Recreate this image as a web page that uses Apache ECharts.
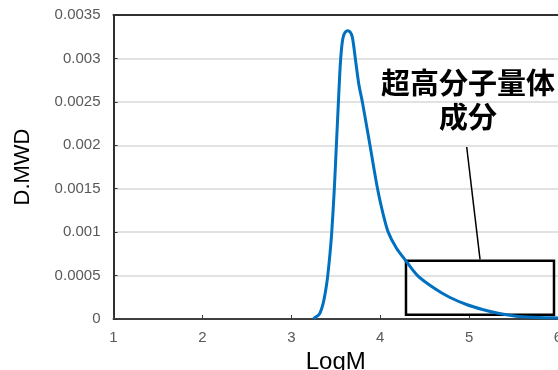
<!DOCTYPE html>
<html>
<head>
<meta charset="utf-8">
<script src="https://cdn.jsdelivr.net/npm/echarts@6/dist/echarts.min.js"></script>
<style>
  html, body { margin: 0; padding: 0; background: #fff; }
  #chart { width: 558px; height: 370px; }
</style>
</head>
<body>
<div id="chart"></div>
<script>
// Molecular weight distribution (LogM vs D.MWD)
const logM = [3.25, 3.27, 3.30, 3.324, 3.36, 3.39, 3.41, 3.435, 3.455, 3.484, 3.507, 3.530,
  3.545, 3.556, 3.57, 3.585, 3.605, 3.635, 3.665, 3.685, 3.70, 3.72, 3.76, 3.799, 3.885,
  3.97, 4.03, 4.09, 4.18, 4.29, 4.42, 4.6, 4.78, 4.97, 5.15, 5.34, 5.53, 5.72, 5.92, 6.0];
const dmwd = [0, 0.00002, 0.00004, 0.00007, 0.000186, 0.00035, 0.0005, 0.00075, 0.001, 0.0015,
  0.002, 0.0025, 0.00282, 0.003, 0.00316, 0.00325, 0.0033, 0.00332, 0.0033, 0.00325, 0.00316,
  0.003, 0.0027, 0.0025, 0.002, 0.0015, 0.00122, 0.001, 0.00082, 0.000668, 0.0005, 0.00036,
  0.00025, 0.000167, 0.00011, 0.000063, 0.000032, 0.00002, 0.000014, 0.000012];

const xTickLabels = ['1', '2', '3', '4', '5', '6'];
const yTickLabels = ['0', '0.0005', '0.001', '0.0015', '0.002', '0.0025', '0.003', '0.0035'];

// Highlight box around the high-molecular-weight tail, with a leader line
const boxCorners = [[4.29, 0.000671], [5.955, 0.00005]];
const leader = [[4.973, 0.00198], [5.123, 0.000687]];
const noteText = '超高分子量体\n成分';

const chart = echarts.init(document.getElementById('chart'), null, { renderer: 'canvas' });

chart.setOption({
  animation: false,
  backgroundColor: '#fff',
  grid: {
    left: 113.5, top: 15, right: 0, bottom: 51,
    outerBoundsMode: 'none', containLabel: false
  },
  xAxis: [{
    type: 'value', min: 1, max: 6, interval: 1,
    name: 'LogM', nameLocation: 'middle', nameGap: 28,
    nameTextStyle: { color: '#000', fontSize: 24, fontFamily: 'Liberation Sans' },
    axisLine: { show: true, lineStyle: { color: '#404040', width: 2 } },
    axisTick: { show: true, inside: true, length: 4, lineStyle: { color: '#404040', width: 1 } },
    axisLabel: {
      color: '#595959', fontSize: 15, fontFamily: 'Liberation Sans', margin: 11,
      formatter: v => xTickLabels[Math.round(v) - 1]
    },
    splitLine: { show: false }
  }, {
    // frame line along the top of the plot
    type: 'value', position: 'top', min: 1, max: 6, interval: 1,
    axisLine: { show: true, onZero: false, lineStyle: { color: '#303030', width: 2 } },
    axisTick: { show: false },
    axisLabel: { show: false },
    splitLine: { show: false }
  }],
  yAxis: {
    type: 'value', min: 0, max: 0.0035, interval: 0.0005,
    name: 'D.MWD', nameLocation: 'middle', nameGap: 80,
    nameTextStyle: { color: '#000', fontSize: 22, fontFamily: 'Liberation Sans' },
    axisLine: { show: true, lineStyle: { color: '#303030', width: 2 } },
    axisTick: { show: true, inside: true, length: 4, lineStyle: { color: '#303030', width: 1 } },
    axisLabel: {
      color: '#595959', fontSize: 15, fontFamily: 'Liberation Sans', margin: 13,
      formatter: v => yTickLabels[Math.round(v / 0.0005)]
    },
    splitLine: { show: true, lineStyle: { color: '#d9d9d9', width: 1.5 } }
  },
  series: [{
    type: 'line',
    data: logM.map((x, i) => [x, dmwd[i]]),
    smooth: 0.3,
    showSymbol: false,
    lineStyle: { color: '#0070C0', width: 3 },
    itemStyle: { color: '#0070C0' },
    z: 3,
    markArea: {
      silent: true,
      itemStyle: { color: 'rgba(0,0,0,0)', borderColor: '#000', borderWidth: 2.5 },
      data: [[{ coord: boxCorners[0] }, { coord: boxCorners[1] }]]
    },
    markLine: {
      silent: true,
      symbol: ['none', 'none'],
      label: { show: false },
      lineStyle: { color: '#000', width: 1.5, type: 'solid' },
      data: [[{ coord: leader[0] }, { coord: leader[1] }]]
    }
  }],
  graphic: [{
    type: 'text',
    x: 468, y: 66,
    style: {
      text: noteText,
      align: 'center',
      verticalAlign: 'top',
      fill: '#000',
      font: 'bold 29px "Noto Sans CJK JP"',
      lineHeight: 34
    }
  }]
});
</script>
</body>
</html>
